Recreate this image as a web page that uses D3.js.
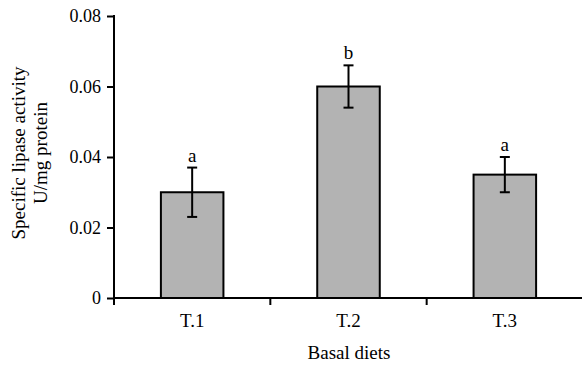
<!DOCTYPE html>
<html>
<head>
<meta charset="utf-8">
<script src="https://cdn.jsdelivr.net/npm/d3@7"></script>
<style>
  body { margin: 0; background: #fff; }
  svg text { font-family: "Liberation Serif", "Times New Roman", serif; fill: #000; }
</style>
</head>
<body>
<div id="chart"></div>
<script>
// data
var diets = ["T.1", "T.2", "T.3"];
var activity = [0.030, 0.060, 0.035];
var errLow = [0.023, 0.054, 0.030];
var errHigh = [0.037, 0.066, 0.040];
var letters = ["a", "b", "a"];
var yTicks = [0, 0.02, 0.04, 0.06, 0.08];

var width = 582, height = 366;
var mLeft = 114, mTop = 16, mBottom = 298, mRight = 583;
var fs = "19px";

var svg = d3.select("#chart")
    .append("svg")
    .attr("width", width)
    .attr("height", height);

var x = d3.scaleBand()
    .domain(diets)
    .range([mLeft, mRight])
    .paddingInner(0.6)
    .paddingOuter(0.3);

var y = d3.scaleLinear()
    .domain([0, 0.08])
    .range([mBottom, mTop]);

// bars
svg.selectAll("rect.bar")
    .data(diets)
    .enter()
    .append("rect")
    .attr("class", "bar")
    .attr("x", function(d) { return x(d); })
    .attr("y", function(d, i) { return y(activity[i]); })
    .attr("width", x.bandwidth())
    .attr("height", function(d, i) { return y(0) - y(activity[i]); })
    .style("fill", "#b3b3b3")
    .style("stroke", "#000")
    .style("stroke-width", 2);

// error bars
var cap = 5;
var eb = svg.selectAll("g.err")
    .data(diets)
    .enter()
    .append("g")
    .attr("class", "err")
    .style("stroke", "#000")
    .style("stroke-width", 2);

eb.append("line")
    .attr("x1", function(d) { return x(d) + x.bandwidth() / 2; })
    .attr("x2", function(d) { return x(d) + x.bandwidth() / 2; })
    .attr("y1", function(d, i) { return y(errLow[i]); })
    .attr("y2", function(d, i) { return y(errHigh[i]); });
eb.append("line")
    .attr("x1", function(d) { return x(d) + x.bandwidth() / 2 - cap; })
    .attr("x2", function(d) { return x(d) + x.bandwidth() / 2 + cap; })
    .attr("y1", function(d, i) { return y(errHigh[i]); })
    .attr("y2", function(d, i) { return y(errHigh[i]); });
eb.append("line")
    .attr("x1", function(d) { return x(d) + x.bandwidth() / 2 - cap; })
    .attr("x2", function(d) { return x(d) + x.bandwidth() / 2 + cap; })
    .attr("y1", function(d, i) { return y(errLow[i]); })
    .attr("y2", function(d, i) { return y(errLow[i]); });

// significance letters
svg.selectAll("text.letter")
    .data(diets)
    .enter()
    .append("text")
    .attr("class", "letter")
    .attr("x", function(d) { return x(d) + x.bandwidth() / 2; })
    .attr("y", function(d, i) { return y(errHigh[i]) - 6; })
    .attr("text-anchor", "middle")
    .style("font-size", fs)
    .text(function(d, i) { return letters[i]; });

// y axis
var yAxis = d3.axisLeft(y)
    .tickValues(yTicks)
    .tickSize(7)
    .tickSizeOuter(0)
    .tickPadding(6)
    .tickFormat(function(d) { return d === 0 ? "0" : d3.format(".2f")(d); });

var gy = svg.append("g")
    .attr("transform", "translate(" + mLeft + ",0)")
    .call(yAxis);
gy.select(".domain").remove();
gy.selectAll(".tick line").style("stroke", "#000").style("stroke-width", 2);
gy.selectAll(".tick text")
    .style("font-size", "18px")
    .style("font-family", "Liberation Serif");

svg.append("line")
    .attr("x1", mLeft).attr("x2", mLeft)
    .attr("y1", mTop - 1).attr("y2", mBottom + 7)
    .style("stroke", "#000").style("stroke-width", 2);

// x axis
svg.append("line")
    .attr("x1", mLeft).attr("x2", mRight)
    .attr("y1", mBottom).attr("y2", mBottom)
    .style("stroke", "#000").style("stroke-width", 2);

var bounds = d3.range(1, diets.length).map(function(i) {
    return x.range()[0] + x.step() * i;
});
svg.selectAll("line.xtick")
    .data(bounds)
    .enter()
    .append("line")
    .attr("class", "xtick")
    .attr("x1", function(d) { return d; })
    .attr("x2", function(d) { return d; })
    .attr("y1", mBottom)
    .attr("y2", mBottom + 7)
    .style("stroke", "#000").style("stroke-width", 2);

var gx = svg.append("g")
    .attr("transform", "translate(0," + mBottom + ")")
    .call(d3.axisBottom(x).tickSize(0).tickPadding(16));
gx.select(".domain").remove();
gx.selectAll(".tick text")
    .style("font-size", fs)
    .style("font-family", "Liberation Serif");

// axis titles
svg.append("text")
    .attr("x", 349)
    .attr("y", 359)
    .attr("text-anchor", "middle")
    .style("font-size", fs)
    .text("Basal diets");

var yt = svg.append("text")
    .attr("transform", "translate(25,153) rotate(-90)")
    .attr("text-anchor", "middle")
    .style("font-size", fs);
yt.append("tspan").attr("x", 0).attr("dy", 0).text("Specific lipase activity");
yt.append("tspan").attr("x", 0).attr("dy", 22).text("U/mg protein");
</script>
</body>
</html>
